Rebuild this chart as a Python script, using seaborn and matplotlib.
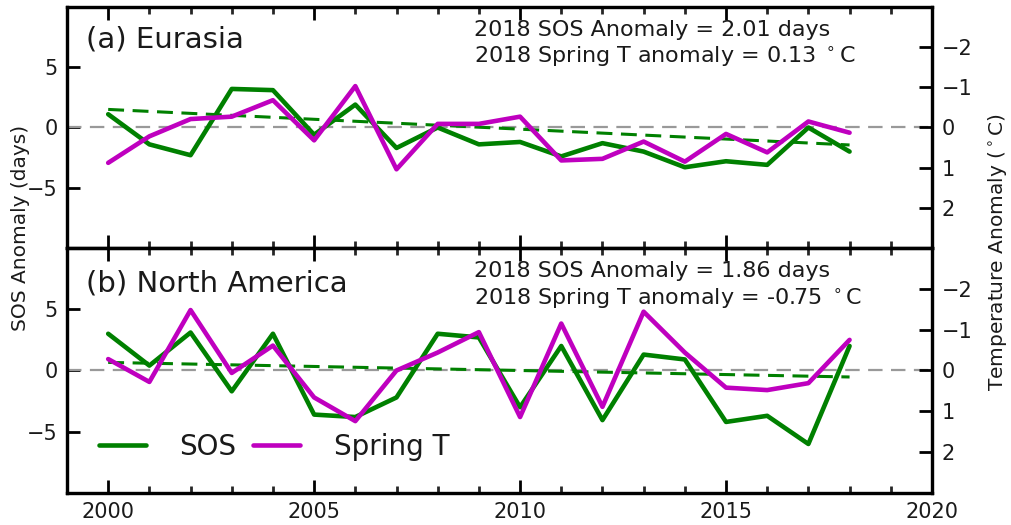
import numpy as np
import pandas as pd
import matplotlib
matplotlib.use("Agg")
import matplotlib.pyplot as plt
from matplotlib.ticker import MultipleLocator
import seaborn as sns

years = list(range(2000, 2019))
ea_sos = [1.1, -1.4, -2.3, 3.2, 3.1, -0.6, 1.9, -1.7, 0.0, -1.4, -1.2,
          -2.4, -1.3, -2.0, -3.3, -2.8, -3.1, 0.0, -2.0]
ea_t = [0.88, 0.22, -0.21, -0.27, -0.68, 0.32, -1.03, 1.04, -0.09, -0.09, -0.27,
        0.82, 0.78, 0.35, 0.85, 0.16, 0.62, -0.15, 0.13]
na_sos = [3.0, 0.4, 3.1, -1.7, 3.0, -3.6, -3.8, -2.2, 3.0, 2.7, -3.0,
          2.0, -4.05, 1.3, 0.9, -4.2, -3.7, -6.0, 2.0]
na_t = [-0.28, 0.28, -1.48, 0.06, -0.61, 0.66, 1.24, 0.0, -0.44, -0.94, 1.14,
        -1.15, 0.89, -1.44, -0.44, 0.42, 0.48, 0.31, -0.75]
trend_years = [2000, 2018]
ea_trend = [1.5, -1.45]
na_trend = [0.66, -0.53]

panel_titles = ["(a) Eurasia", "(b) North America"]
sos_texts = ["2018 SOS Anomaly = 2.01 days", "2018 SOS Anomaly = 1.86 days"]
t_texts = [r"2018 Spring T anomaly = 0.13 $^\circ$C", r"2018 Spring T anomaly = -0.75 $^\circ$C"]
left_ticks = [-5, 0, 5]
right_ticks = [-2, -1, 0, 1, 2]
xtick_labels = [2000, 2005, 2010, 2015, 2020]

sns.set_style("ticks")
plt.rcParams["font.family"] = ["DejaVu Sans"]
plt.rcParams["mathtext.fontset"] = "dejavusans"
plt.rcParams["text.color"] = "#1a1a1a"

GREEN = "#008000"
MAG = "#bf00bf"

fig = plt.figure(figsize=(10.12, 5.25), dpi=100)
L, W = 0.0662, 0.8547
axes = [fig.add_axes([L, 0.5276, W, 0.4591]),
        fig.add_axes([L, 0.0610, W, 0.4666])]

data = [(ea_sos, ea_t, ea_trend), (na_sos, na_t, na_trend)]

for i, (ax, (sos, tt, trend)) in enumerate(zip(axes, data)):
    df = pd.DataFrame({"year": years, "sos": sos, "t": tt})
    dtr = pd.DataFrame({"year": trend_years, "trend": trend})
    ax.axhline(0, color="#999999", lw=1.6, ls=(0, (6.5, 3.8)), zorder=1)
    sns.lineplot(data=dtr, x="year", y="trend", ax=ax, color=GREEN, lw=2.2,
                 ls=(0, (5.2, 2.8)), legend=False)
    sns.lineplot(data=df, x="year", y="sos", ax=ax, color=GREEN, lw=3.3,
                 label="SOS", legend=False)
    ax.set_xlim(1999, 2020)
    ax.set_ylim(-10, 10)
    ax.set_yticks(left_ticks)
    ax.set_ylabel("")
    ax.set_xlabel("")
    ax2 = ax.twinx()
    sns.lineplot(data=df, x="year", y="t", ax=ax2, color=MAG, lw=3.3,
                 label="Spring T", legend=False)
    ax2.set_ylim(3, -3)
    ax2.set_yticks(right_ticks)
    ax2.set_ylabel("")
    ax2.set_xlim(1999, 2020)

    ax.xaxis.set_major_locator(MultipleLocator(5))
    ax.xaxis.set_minor_locator(MultipleLocator(1))
    for a in (ax, ax2):
        for sp in a.spines.values():
            sp.set_linewidth(2.3)
            sp.set_color("black")
    ax.tick_params(axis="both", which="major", direction="in", length=9.5, width=2,
                   labelsize=15, pad=6.5, top=True, right=False, colors="black",
                   labelcolor="#1a1a1a")
    ax.tick_params(axis="x", which="minor", direction="in", length=5, width=2, top=True)
    ax.tick_params(axis="y", which="minor", left=False, right=False)
    ax2.tick_params(axis="y", which="major", direction="in", length=9.5, width=2,
                    labelsize=15, pad=7, colors="black", labelcolor="#1a1a1a")
    if i == 0:
        ax.tick_params(axis="x", which="both", labelbottom=False)
    else:
        ax.set_xticks(xtick_labels)
        ax.set_xticklabels([str(v) for v in xtick_labels])

    ax.text(0.022, 0.83 if i == 0 else 0.824, panel_titles[i], transform=ax.transAxes,
            fontsize=21, va="baseline", ha="left")
    ax2.text(0.47, 0.88, sos_texts[i], transform=ax.transAxes, fontsize=16,
             va="baseline", ha="left")
    ax2.text(0.47, 0.768, t_texts[i], transform=ax.transAxes, fontsize=16,
             va="baseline", ha="left")

    if i == 1:
        h1 = ax.get_lines()[-1]
        h2 = ax2.get_lines()[-1]
        ax2.legend([h1, h2], ["SOS", "Spring T"], loc="lower left", ncol=2,
                   frameon=False, fontsize=20, handlelength=1.7, handletextpad=1.2,
                   columnspacing=0.6, borderaxespad=0.75,
                   labelcolor="#1a1a1a")

fig.text(0.020, 0.566, "SOS Anomaly (days)", rotation=90, fontsize=14.5,
         ha="center", va="center")
fig.text(0.986, 0.52, r"Temperature Anomaly ($^\circ$C)", rotation=90, fontsize=14.5,
         ha="center", va="center")

fig.savefig("out.png", dpi=100)
